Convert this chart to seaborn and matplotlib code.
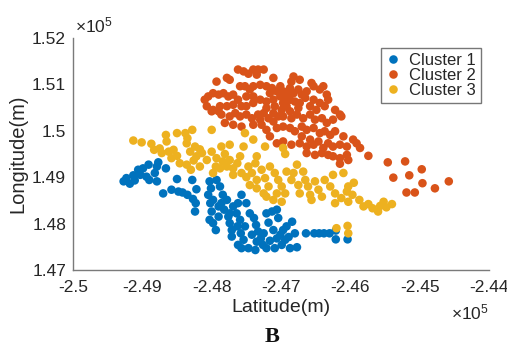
import numpy as np
import pandas as pd
import matplotlib
matplotlib.use("Agg")
import matplotlib.pyplot as plt
import seaborn as sns

# ---------------- data (metres) ----------------
c1_x = [-249270,-249230,-249180,-249130,-249110,-249060,-249030,-248990,-248940,-248910,
        -248900,-248820,-248790,-248790,-248770,-248660,-248700,-248580,-248500,-248480,
        -248420,-248350,-248280,-248270,-248230,-248240,-248220,-248030,-248010,-248050,
        -248020,-248000,-248030,-247980,-247940,-247900,-247880,-247930,-247840,-247860,
        -247820,-247780,-247760,-247740,-247710,-247710,-247740,-247640,-247620,-247570,
        -247590,-247630,-247580,-247540,-247470,-247500,-247450,-247390,-247360,-247330,
        -247290,-247260,-247350,-247420,-247210,-247180,-247130,-247110,-247060,-247040,
        -247010,-246990,-246940,-246920,-246890,-246870,-246840,-246800,-246770,-246640,
        -246520,-246450,-246380,-246300,-246210,-246210,-246040,-247620,-247570,-247370,
        -247210,-247160,-247090,-247060,-247690,-247980,-247900,-247520,-247250,-246970]
c1_y = [148910,148980,148860,149040,148930,149160,149050,149190,149010,149270,
        148940,149090,149230,148910,149320,149190,148650,148730,148960,148690,
        148670,148620,148940,148530,148440,148260,148740,148910,148760,148620,
        148440,148260,148080,148010,147860,148150,148800,148940,148620,148440,
        148300,148510,148150,148010,147860,147720,148220,148220,148440,148620,
        148080,147940,147790,147650,147470,148440,148220,148120,147970,147830,
        147680,147540,147610,147760,148220,148020,148260,147860,148300,148120,
        147760,147540,147650,147940,147710,147470,148040,147790,147490,147790,
        147790,147790,147790,147790,147850,147660,147660,147540,147470,147430,
        147470,147630,147470,147680,148370,148510,148370,147940,147790,147860]

c2_x = [-247620,-247540,-247470,-247400,-247330,-247250,-247350,-247780,-247930,-247740,
        -247110,-246820,-246730,-246850,-246560,
        -248100,-248050,-247980,-247900,-247830,-247760,-247690,-247590,-247520,-247450,
        -247400,-247300,-247210,-247130,-247060,-247010,-246970,-246920,-246870,-246820,
        -246750,-246700,-246630,-246530,-246440,-246390,-246340,-246320,
        -248070,-247980,-247880,-247780,-247690,-247620,-247570,-247500,-247400,-247300,
        -247210,-247110,-247010,-246970,-246920,-246870,-246800,-246730,-246650,-246530,
        -246440,-246370,-246220,-246150,
        -247860,-247740,-247660,-247590,-247500,-247420,-247330,-247250,-247180,-247110,
        -247040,-246970,-246870,-246770,-246680,-246580,-246510,-246410,-246340,-246250,
        -246130,
        -247690,-247570,-247400,-247280,-247210,-247160,-247060,-246970,-246870,-246800,
        -246700,-246630,-246530,-246440,-246370,-246290,-246220,-246100,-245960,
        -247060,-246970,-246850,-246730,-246630,-246530,-246460,-246390,-246320,-246250,
        -246150,-246050,-245910,-245860,
        -246630,-246510,-246410,-246320,-246250,-246150,-246050,-246030,-246150,-245740,
        -245460,-245210,-245380,-245150,-244970,-244960,-245190,-245070,-244780,-244580,
        -248000,-247900,-247810,
        -247160,-247090,-246990,-246920,-246850,-246750,-246580,-246490,-246700,-246580,
        -247400,-247500,-247210,-247300,-247110]
c2_y = [151320,151280,151230,151320,151320,151320,151210,151140,151060,151100,
        151140,151170,151100,151060,151030,
        150670,150740,150810,150780,150810,150740,150780,150960,150960,150890,
        150960,150990,150960,150920,150850,150960,150850,150780,150920,150810,
        150890,150780,150850,150960,150890,150960,150780,150670,
        150530,150450,150530,150530,150560,150670,150530,150530,150600,150670,
        150630,150670,150740,150600,150670,150670,150630,150600,150710,150670,
        150600,150530,150450,150350,
        150350,150310,150380,150310,150350,150270,150350,150380,150270,150380,
        150310,150310,150420,150350,150270,150350,150240,150270,150170,150240,
        150310,
        150130,150090,150130,150130,150020,149880,150060,150090,150060,149990,
        150090,150020,150060,149950,149990,149910,149990,149880,149810,
        149730,149770,149700,149730,149660,149700,149770,149630,149730,149660,
        149700,149660,149730,149630,
        149520,149480,149520,149480,149450,149410,149480,149370,149290,149460,
        149320,149340,148990,149040,149170,148870,148670,148670,148760,148910,
        150420,150420,150170,
        150810,150530,150450,150530,150270,150490,150530,150450,149880,149810,
        150740,150740,150490,150240,150200]

c3_x = [-249130,-249010,-248870,-248830,-248750,-248720,-248660,-248650,-248620,-248550,
        -248580,-248500,-248500,-248460,-248380,-248360,-248350,-248280,-248310,-248240,
        -248220,-248170,-248260,-248360,-248300,-248170,-248140,-248000,-248000,-247930,
        -247860,-247740,-247940,-247980,-247880,-247840,-247810,-247740,-247690,-247690,
        -247630,-247570,-247500,-247420,-247370,-247350,-247280,-247230,-247180,-247160,
        -247090,-247040,-246990,-246940,-246920,-246850,-246820,-246770,-246750,-246730,
        -246680,-246650,-246610,-246580,-246510,-246460,-246410,-246370,-246290,-246250,
        -246220,-246130,-246100,-246030,-247540,-247520,-247400,-247350,-247450,-247350,
        -247230,-247210,-247250,-247110,-246990,-246970,-246940,-246560,-246220,-246050,
        -246030,-245970,-245950,-245870,-245810,-245740,-245680,-245600,-245570,-245520,
        -245480,-245400,-246200,-246040,-246030,-247590,-247470,-248070,-247780,-247060]
c3_y = [149790,149750,149720,149590,149620,149520,149910,149770,149550,149590,
        149410,149950,149460,149300,149950,149730,149840,150020,149550,149660,
        149450,149600,149360,149270,149160,149230,149520,150020,149550,149410,
        149660,149700,149230,149090,149190,149340,149500,149370,149190,149050,
        149300,149090,149000,149090,149300,148940,149160,148980,148800,149230,
        149090,148940,148800,148650,149120,148940,149090,149270,148830,148650,
        149120,148940,148800,148620,148910,148730,148580,148940,148800,149050,
        148650,148550,149090,148800,149660,149950,149810,149450,148830,148760,
        149660,148580,148650,148510,148470,149630,149500,148510,148440,148690,
        148470,148620,148880,148510,148370,148420,148330,148260,148380,148470,
        148350,148420,147900,147950,147790,149450,149230,149370,149230,148650]

cluster_names = ["Cluster 1", "Cluster 2", "Cluster 3"]
cluster_colors = ["#0072BD", "#D95319", "#EDB120"]
x_tick_labels = ["-2.5", "-2.49", "-2.48", "-2.47", "-2.46", "-2.45", "-2.44"]
y_tick_labels = ["1.47", "1.48", "1.49", "1.5", "1.51", "1.52"]
scale = 1e5

# ---------------- build table ----------------
frames = []
for name, xs, ys in zip(cluster_names, [c1_x, c2_x, c3_x], [c1_y, c2_y, c3_y]):
    frames.append(pd.DataFrame({"lat": np.array(xs) / scale,
                                "lon": np.array(ys) / scale,
                                "cluster": name}))
df = pd.concat(frames, ignore_index=True)

sns.set_style("white")
plt.rcParams["font.family"] = ["Liberation Sans", "DejaVu Sans"]
plt.rcParams["mathtext.fontset"] = "custom"
plt.rcParams["mathtext.rm"] = "Liberation Sans"
plt.rcParams["mathtext.it"] = "Liberation Sans"

fig = plt.figure(figsize=(5.07, 3.47), dpi=100)
ax = fig.add_axes([0.144, 0.222, 0.8205, 0.6685])

sns.scatterplot(data=df, x="lat", y="lon", hue="cluster",
                hue_order=cluster_names, palette=cluster_colors,
                s=38, linewidth=0, alpha=1, ax=ax, legend=True)

xt = [float(t) for t in x_tick_labels]
yt = [float(t) for t in y_tick_labels]
ax.set_xlim(xt[0], xt[-1])
ax.set_ylim(yt[0], yt[-1])
ax.set_xticks(xt)
ax.set_xticklabels(x_tick_labels)
ax.set_yticks(yt)
ax.set_yticklabels(y_tick_labels)

axis_col = "#7a7a7a"
text_col = "#262626"
for side in ["top", "right"]:
    ax.spines[side].set_visible(False)
for side in ["left", "bottom"]:
    ax.spines[side].set_color(axis_col)
    ax.spines[side].set_linewidth(1.0)
ax.tick_params(axis="both", direction="in", length=4, width=0.9,
               color=axis_col, labelsize=12.5, labelcolor=text_col, pad=5)
ax.tick_params(axis="x", pad=7)

ax.set_xlabel("Latitude(m)", fontsize=14, color=text_col, labelpad=3)
ax.set_ylabel("Longitude(m)", fontsize=14.5, color=text_col, labelpad=3)

ax.text(0.005, 1.01, r"$\times10^5$", transform=ax.transAxes,
        fontsize=12.5, color=text_col, ha="left", va="bottom")
ax.text(1.0, -0.14, r"$\times10^5$", transform=ax.transAxes,
        fontsize=12.5, color=text_col, ha="right", va="top")

handles, labels = ax.get_legend_handles_labels()
leg = ax.legend(handles, labels, loc="upper right",
                bbox_to_anchor=(0.981, 0.957), borderaxespad=0,
                fontsize=12, frameon=True, fancybox=False,
                handlelength=0.8, handletextpad=0.6, labelspacing=0.0,
                borderpad=0.3, markerscale=1.0)
leg.get_frame().set_edgecolor("#555555")
leg.get_frame().set_linewidth(1.0)
for t in leg.get_texts():
    t.set_color(text_col)

fig.text(272 / 507, 1 - 337 / 347, "B", fontsize=16, fontweight="bold",
         family=["Liberation Serif", "DejaVu Serif"], ha="center", va="center",
         color="#111111")

fig.savefig("out.png", dpi=100, facecolor="white")
